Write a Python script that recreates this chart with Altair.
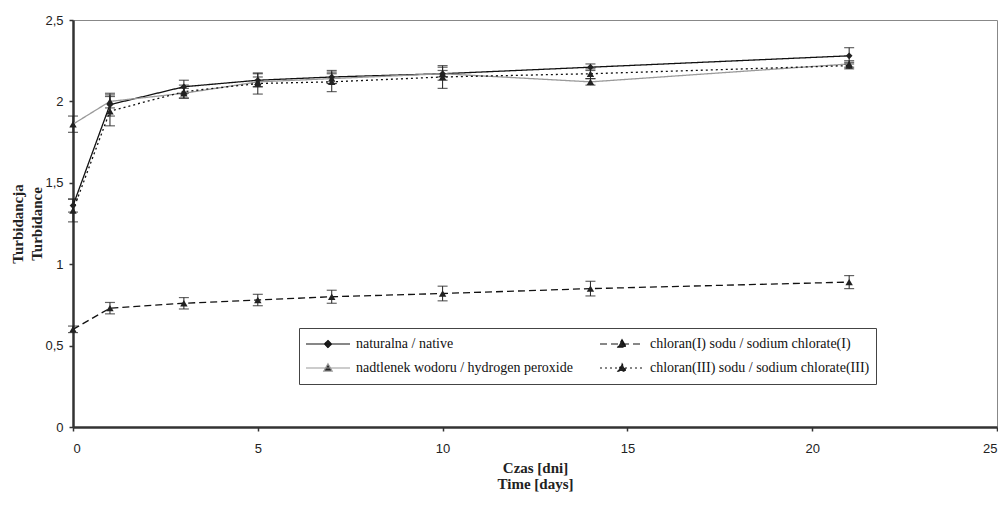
import altair as alt
import pandas as pd

days = [0, 1, 3, 5, 7, 10, 14, 21]

series_names = [
    "naturalna / native",
    "nadtlenek wodoru / hydrogen peroxide",
    "chloran(I) sodu / sodium chlorate(I)",
    "chloran(III) sodu / sodium chlorate(III)",
]

native_vals = [1.36, 1.98, 2.09, 2.13, 2.15, 2.17, 2.21, 2.28]
native_err = [0.04, 0.07, 0.04, 0.04, 0.04, 0.04, 0.02, 0.05]

peroxide_vals = [1.86, 2.00, 2.05, 2.12, 2.14, 2.17, 2.12, 2.23]
peroxide_err = [0.05, 0.04, 0.03, 0.03, 0.03, 0.02, 0.02, 0.02]

chlorate1_vals = [0.60, 0.73, 0.76, 0.78, 0.80, 0.82, 0.85, 0.89]
chlorate1_err = [0.02, 0.035, 0.035, 0.035, 0.04, 0.045, 0.045, 0.04]

chlorate3_vals = [1.33, 1.94, 2.06, 2.11, 2.12, 2.15, 2.17, 2.22]
chlorate3_err = [0.07, 0.09, 0.04, 0.065, 0.06, 0.07, 0.03, 0.02]

line_colors = ["#111111", "#9a9a9a", "#111111", "#111111"]
line_dashes = [[1, 0], [1, 0], [7, 4], [2, 3]]

rows = []
for name, vals, errs in [
    (series_names[0], native_vals, native_err),
    (series_names[1], peroxide_vals, peroxide_err),
    (series_names[2], chlorate1_vals, chlorate1_err),
    (series_names[3], chlorate3_vals, chlorate3_err),
]:
    for d, v, e in zip(days, vals, errs):
        rows.append({"day": d, "value": v, "lo": v - e, "hi": v + e, "series": name})
df = pd.DataFrame(rows)

SERIF = "Liberation Serif"
SANS = "Liberation Sans, Arial"

diamond_path = "M-1,0H1M0,-0.16L0.16,0L0,0.16L-0.16,0Z"
triangle_path = "M-1,0H1M0,-0.19L0.19,0.14L-0.19,0.14Z"
legend_shapes = [diamond_path, triangle_path, triangle_path, triangle_path]

x_enc = alt.X(
    "day:Q",
    scale=alt.Scale(domain=[0, 25], nice=False, zero=False),
    axis=alt.Axis(
        values=[0, 5, 10, 15, 20, 25],
        title=["Czas [dni]", "Time [days]"],
        titleFont=SERIF, titleFontWeight="bold", titleFontSize=15,
        titleLineHeight=16, titlePadding=5,
        labelFont=SANS, labelFontSize=13, labelPadding=11,
        grid=False,
    ),
)
y_scale = alt.Scale(domain=[0, 2.5], nice=False, zero=True)
y_axis = alt.Axis(
    values=[0, 0.5, 1, 1.5, 2, 2.5],
    format="~g",
    labelExpr="replace(datum.label, '.', ',')",
    title=["Turbidancja", "Turbidance"],
    titleFont=SERIF, titleFontWeight="bold", titleFontSize=15,
    titleLineHeight=19, titlePadding=0,
    labelFont=SANS, labelFontSize=13, labelPadding=6,
    grid=False,
)

legend = alt.Legend(
    title=None,
    orient="none",
    legendX=226,
    legendY=308,
    columns=2,
    columnPadding=26,
    rowPadding=4,
    padding=6,
    clipHeight=20,
    strokeColor="#444444",
    fillColor="white",
    labelFont=SERIF,
    labelFontSize=14,
    labelColor="#111111",
    labelOffset=5,
    labelLimit=400,
    symbolSize=1936,
    symbolStrokeWidth=1.2,
    symbolFillColor="#222222",
)

base = alt.Chart(df)

stroke_enc = alt.Stroke(
    "series:N",
    scale=alt.Scale(domain=series_names, range=line_colors),
    legend=legend,
)
dash_enc = alt.StrokeDash(
    "series:N",
    scale=alt.Scale(domain=series_names, range=line_dashes),
    legend=legend,
)

lines = base.mark_line(strokeWidth=1.3).encode(
    x=x_enc,
    y=alt.Y("value:Q", scale=y_scale, axis=y_axis),
    stroke=stroke_enc,
    strokeDash=dash_enc,
    order="day:Q",
)

legend_layer = base.transform_filter("false").mark_point(
    filled=True, color="#222222", opacity=1
).encode(
    x="day:Q",
    y="value:Q",
    stroke=stroke_enc,
    strokeDash=dash_enc,
    shape=alt.Shape(
        "series:N",
        scale=alt.Scale(domain=series_names, range=legend_shapes),
        legend=legend,
    ),
)

rules = base.mark_rule(color="#222222", strokeWidth=1).encode(
    x="day:Q", y="lo:Q", y2="hi:Q"
)
caps_lo = base.mark_tick(color="#222222", thickness=1.2, size=10, orient="horizontal").encode(
    x="day:Q", y="lo:Q"
)
caps_hi = base.mark_tick(color="#222222", thickness=1.2, size=10, orient="horizontal").encode(
    x="day:Q", y="hi:Q"
)

pts_native = base.transform_filter(
    alt.datum.series == series_names[0]
).mark_point(shape="diamond", filled=True, size=45, color="#222222", opacity=1).encode(
    x="day:Q", y="value:Q"
)
pts_tri = base.transform_filter(
    alt.datum.series != series_names[0]
).mark_point(shape="triangle-up", filled=True, size=55, color="#222222", opacity=1).encode(
    x="day:Q", y="value:Q"
)

chart = alt.layer(lines, legend_layer, rules, caps_lo, caps_hi, pts_native, pts_tri).properties(
    width=924,
    height=407,
    autosize=alt.AutoSizeParams(type="none"),
    padding={"left": 65, "top": 12, "right": 1, "bottom": 65},
    background="white",
).configure_view(
    stroke="#888888", strokeWidth=1
).configure_axis(
    domainColor="#333333",
    domainWidth=2.5,
    tickColor="#333333",
    tickWidth=1.5,
    tickSize=4,
    labelColor="#222222",
    titleColor="#222222",
)

chart.save("out.html", embed_options={"renderer": "svg", "actions": False})
